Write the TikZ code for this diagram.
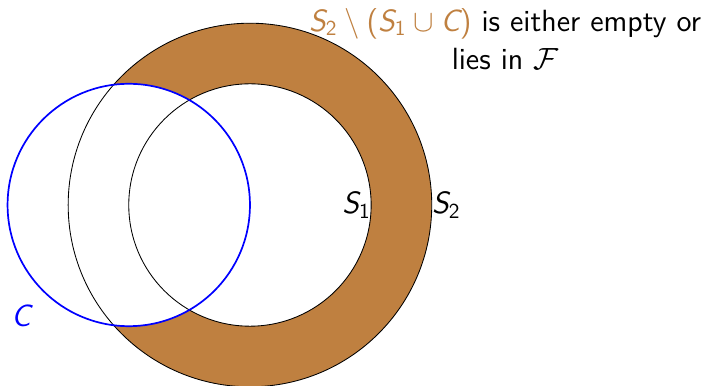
\documentclass[tikz,border=0pt]{standalone}
\usepackage{amsmath,amssymb}
\usepackage{tikz}
\usetikzlibrary{positioning}
\newcommand{\sv}[1]{\text{\sffamily\slshape #1}}
\newcommand{\sn}[1]{\text{\sffamily #1}}

\begin{document}
\begin{tikzpicture}[font=\sffamily\Large,
  ring/.style={draw=black,thin},
  setC/.style={draw=blue,thick}]
\useasboundingbox (-4.125,-2.985) rectangle (7.46,3.383);
% shaded part S2 minus (S1 u C)
\fill[brown,even odd rule] (0,0) circle (3) (0,0) circle (2);
\fill[white] (-2,0) circle (2);
% the three sets
\draw[ring] (0,0) circle (3);
\draw[ring] (0,0) circle (2);
\draw[setC] (-2,0) circle (2);
\coordinate (s1e) at (2,0);
\coordinate (s2e) at (3,0);
\node[left=0pt of s1e,inner sep=0pt] (labS1) {$\sv{S}_{\sn{1}}$};
\node[right=0pt of s2e,inner sep=0pt] (labS2) {$\sv{S}_{\sn{2}}$};
\node[blue] (labC) at (-3.78,-1.83) {$\sv{C}$};
\node[align=center,inner sep=0pt] (claim) at (4.21,2.74)
  {{\color{brown}$\sv{S}_{\sn{2}} \setminus \sn{(}\sv{S}_{\sn{1}} \cup \sv{C}\sn{)}$} is either empty or\\ lies in $\mathcal{F}$};
\end{tikzpicture}
\end{document}
